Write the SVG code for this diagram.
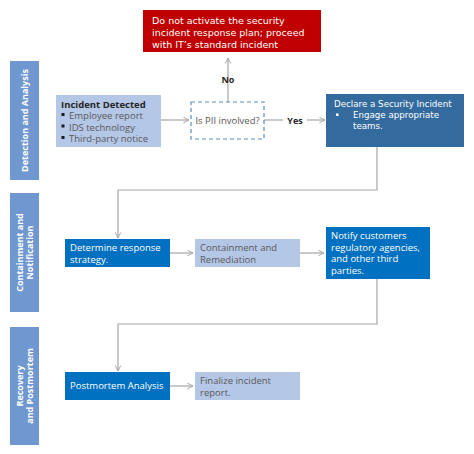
<svg xmlns="http://www.w3.org/2000/svg" width="474" height="454" viewBox="0 0 474 454">
<defs>
<style>
.bar{fill:#7098D0}
.bart{font-family:"Open Sans","Liberation Sans",sans-serif;font-size:9px;font-weight:bold;fill:#fff;text-anchor:middle}
.light{fill:#B4C7E7}
.dark{fill:#0070C0}
.t{font-family:"Open Sans","Liberation Sans",sans-serif;font-size:9.5px}
.tw{fill:#fff}
.tg{fill:#595959}
.tb{fill:#262626}
.v{font-family:"DejaVu Sans","Verdana",sans-serif;font-size:9.5px;fill:#fff}
.vd{font-family:"DejaVu Sans","Verdana",sans-serif;font-size:8.7px;fill:#fff}
.conn{fill:none;stroke:#A6A6A6;stroke-width:1.2}
.lbl{font-family:"Open Sans","Liberation Sans",sans-serif;font-size:9px;font-weight:bold;fill:#262626;text-anchor:middle}
</style>
<marker id="arr" viewBox="0 0 10 10" refX="9" refY="5" markerWidth="7" markerHeight="7" orient="auto" markerUnits="userSpaceOnUse">
<path d="M1,1 L9,5 L1,9" fill="none" stroke="#A6A6A6" stroke-width="1.4"/>
</marker>
</defs>
<rect width="474" height="454" fill="#fff"/>

<g id="lane-detection">
<rect class="bar" x="10" y="61" width="29" height="119"/>
<text class="bart" transform="translate(28,120.5) rotate(-90)">Detection and Analysis</text>
</g>
<g id="lane-containment">
<rect class="bar" x="10" y="193" width="29" height="119"/>
<text class="bart" transform="translate(23,252.5) rotate(-90)">Containment and</text>
<text class="bart" transform="translate(33,252.5) rotate(-90)">Notification</text>
</g>
<g id="lane-recovery">
<rect class="bar" x="10" y="327" width="29" height="118"/>
<text class="bart" transform="translate(23,386) rotate(-90)">Recovery</text>
<text class="bart" transform="translate(33,386) rotate(-90)">and Postmortem</text>
</g>

<g id="connectors">
<line class="conn" x1="161" y1="120" x2="189" y2="120" marker-end="url(#arr)"/>
<line class="conn" x1="228" y1="102" x2="228" y2="58" marker-end="url(#arr)"/>
<line class="conn" x1="264" y1="120" x2="283" y2="120"/>
<line class="conn" x1="307" y1="120" x2="325" y2="120" marker-end="url(#arr)"/>
<polyline class="conn" points="377,147 377,190 118,190 118,238" marker-end="url(#arr)"/>
<line class="conn" x1="170" y1="253" x2="193" y2="253" marker-end="url(#arr)"/>
<line class="conn" x1="300" y1="253" x2="324" y2="253" marker-end="url(#arr)"/>
<polyline class="conn" points="377,279 377,324 118,324 118,371" marker-end="url(#arr)"/>
<line class="conn" x1="170" y1="386" x2="193" y2="386" marker-end="url(#arr)"/>
<text class="lbl" x="228" y="83">No</text>
<text class="lbl" x="295" y="123.5">Yes</text>
</g>

<g id="n-no">
<rect x="143" y="10" width="178" height="42" fill="#C00000"/>
<text class="v" x="152" y="24">Do not activate the security</text>
<text class="v" x="152" y="36">incident response plan; proceed</text>
<text class="v" x="152" y="47.5">with IT’s standard incident</text>
</g>

<g id="n-detected">
<rect class="light" x="56" y="95" width="105" height="52"/>
<text class="t tb" x="61" y="107.5" font-weight="bold">Incident Detected</text>
<rect x="61.5" y="113" width="3" height="3" fill="#1a1a1a"/>
<text class="t tg" x="69" y="119">Employee report</text>
<rect x="61.5" y="124.5" width="3" height="3" fill="#1a1a1a"/>
<text class="t tg" x="69" y="130.5">IDS technology</text>
<rect x="61.5" y="136" width="3" height="3" fill="#1a1a1a"/>
<text class="t tg" x="69" y="142">Third-party notice</text>
</g>

<g id="n-pii">
<rect x="191" y="102" width="73" height="37" fill="#fff" stroke="#5B8DB8" stroke-width="1.2" stroke-dasharray="4,3"/>
<text class="t tg" x="227.5" y="124" text-anchor="middle">Is PII involved?</text>
</g>

<g id="n-declare">
<rect x="326" y="94" width="138" height="53" fill="#336B9E"/>
<text class="vd" x="334" y="107">Declare a Security Incident</text>
<rect x="336" y="113.5" width="2.5" height="2.5" fill="#fff"/>
<text class="vd" x="353" y="118">Engage appropriate</text>
<text class="vd" x="353" y="129">teams.</text>
</g>

<g id="n-determine">
<rect class="dark" x="65" y="239" width="105" height="28"/>
<text class="t tw" x="70" y="251">Determine response</text>
<text class="t tw" x="70" y="263">strategy.</text>
</g>

<g id="n-containment">
<rect class="light" x="195" y="239" width="105" height="28"/>
<text class="t tg" x="200" y="251">Containment and</text>
<text class="t tg" x="200" y="263">Remediation</text>
</g>

<g id="n-notify">
<rect class="dark" x="326" y="227" width="104" height="52"/>
<text class="t tw" x="331" y="239" font-size="9.2">Notify customers</text>
<text class="t tw" x="331" y="250.5" font-size="9.2">regulatory agencies,</text>
<text class="t tw" x="331" y="262" font-size="9.2">and other third</text>
<text class="t tw" x="331" y="273.5" font-size="9.2">parties.</text>
</g>

<g id="n-postmortem">
<rect class="dark" x="65" y="372" width="105" height="28"/>
<text class="t tw" x="70" y="389">Postmortem Analysis</text>
</g>

<g id="n-finalize">
<rect class="light" x="195" y="372" width="105" height="28"/>
<text class="t tg" x="200" y="384">Finalize incident</text>
<text class="t tg" x="200" y="396">report.</text>
</g>
</svg>
